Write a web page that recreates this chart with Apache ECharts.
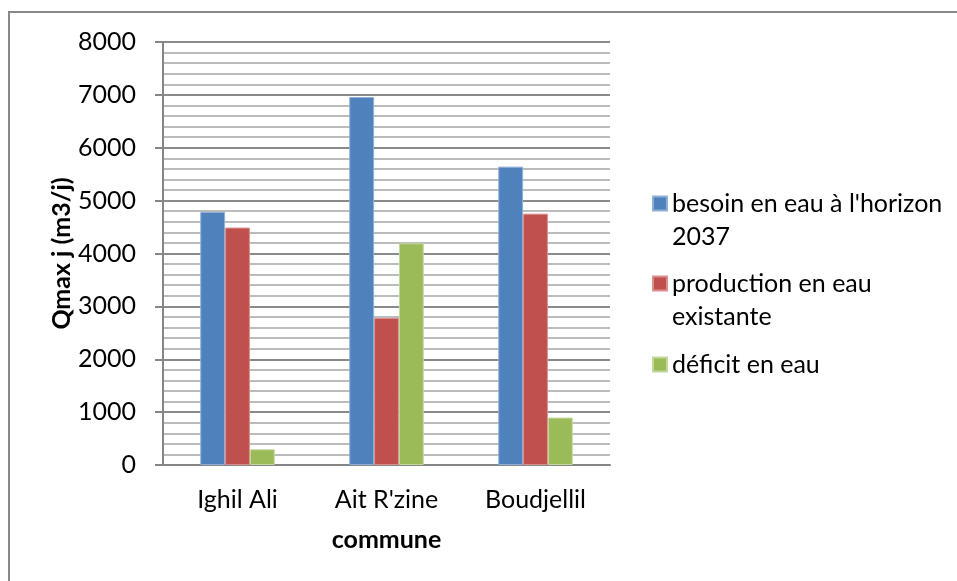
<!DOCTYPE html>
<html>
<head>
<meta charset="utf-8">
<script src="https://cdn.jsdelivr.net/npm/echarts@6/dist/echarts.min.js"></script>
<style>
  html, body { margin: 0; padding: 0; background: #fff; }
  #chart { width: 957px; height: 581px; }
</style>
</head>
<body>
<div id="chart"></div>
<script>
// Communes
const communes = ['Ighil Ali', "Ait R'zine", 'Boudjellil'];

// Qmax j (m3/j) per commune
const besoin = [4785, 6960, 5643];
const production = [4490, 2780, 4754];
const deficit = [297, 4193, 896];

// Series names
const seriesNames = ["besoin en eau à l'horizon 2037", 'production en eau existante', 'déficit en eau'];
// Legend text: wrapped lines (the marker sits beside the first line)
const legendLines = [["besoin en eau à l'horizon", '2037'], ['production en eau', 'existante'], ['déficit en eau']];

// Value axis
const yMin = 0, yMax = 8000, yStep = 1000;

const colors = ['#4F81BD', '#C0504D', '#9BBB59'];
const borders = ['#8FB0D6', '#DA8F8D', '#C3D89D'];
const FONT = 'Lato';
const FS = 25;

const chart = echarts.init(document.getElementById('chart'), null, { renderer: 'canvas' });

// One legend block per series; a leading empty line keeps the marker
// level with the first line of a two-line label.
function legendFor(i, top) {
  const lines = legendLines[i];
  const text = lines.length > 1 ? '\n' + lines.join('\n') : lines[0];
  return {
    data: [seriesNames[i]],
    left: 652,
    top: top,
    padding: 0,
    itemWidth: 14,
    itemHeight: 14,
    itemGap: 0,
    icon: 'rect',
    selectedMode: false,
    formatter: () => text,
    textStyle: {
      fontFamily: FONT,
      fontSize: FS,
      color: '#000',
      lineHeight: 33
    }
  };
}

const dataSets = [besoin, production, deficit];

chart.setOption({
  animation: false,
  backgroundColor: '#fff',
  color: colors,
  graphic: [{
    type: 'rect',
    shape: { x: 9, y: 12, width: 1200, height: 1200 },
    style: { fill: 'none', stroke: '#888', lineWidth: 2 },
    silent: true
  }],
  legend: [
    legendFor(0, 154),
    legendFor(1, 234),
    legendFor(2, 348)
  ],
  grid: { left: 163, right: 347, top: 42, bottom: 116, containLabel: false },
  xAxis: {
    type: 'category',
    data: communes,
    name: 'commune',
    nameLocation: 'middle',
    nameGap: 62,
    nameTextStyle: { fontFamily: FONT, fontSize: FS, fontWeight: 'bold', color: '#000' },
    axisLine: { show: true, lineStyle: { color: '#868686', width: 2 } },
    axisTick: { show: false },
    axisLabel: { fontFamily: FONT, fontSize: FS, color: '#000', margin: 22 },
    splitLine: { show: false }
  },
  yAxis: {
    type: 'value',
    min: yMin,
    max: yMax,
    interval: yStep,
    name: 'Qmax j (m3/j)',
    nameLocation: 'middle',
    nameRotate: 90,
    nameGap: 64,
    nameTextStyle: { fontFamily: FONT, fontSize: FS, fontWeight: 'bold', color: '#000' },
    axisLine: { show: true, lineStyle: { color: '#868686', width: 2 } },
    axisTick: { show: true, inside: false, length: 8, lineStyle: { color: '#868686', width: 2 } },
    axisLabel: { fontFamily: FONT, fontSize: FS, color: '#000', margin: 27, formatter: v => String(v) },
    splitLine: { show: true, lineStyle: { color: '#8a8a8a', width: 2 } },
    minorTick: { show: false, splitNumber: 5 },
    minorSplitLine: { show: true, lineStyle: { color: '#bcbcbc', width: 2 } }
  },
  series: dataSets.map((d, i) => ({
    name: seriesNames[i],
    type: 'bar',
    data: d,
    barGap: '0%',
    barCategoryGap: '50%',
    itemStyle: { color: colors[i], borderColor: borders[i], borderWidth: 1 },
    z: 3
  }))
});
</script>
</body>
</html>
